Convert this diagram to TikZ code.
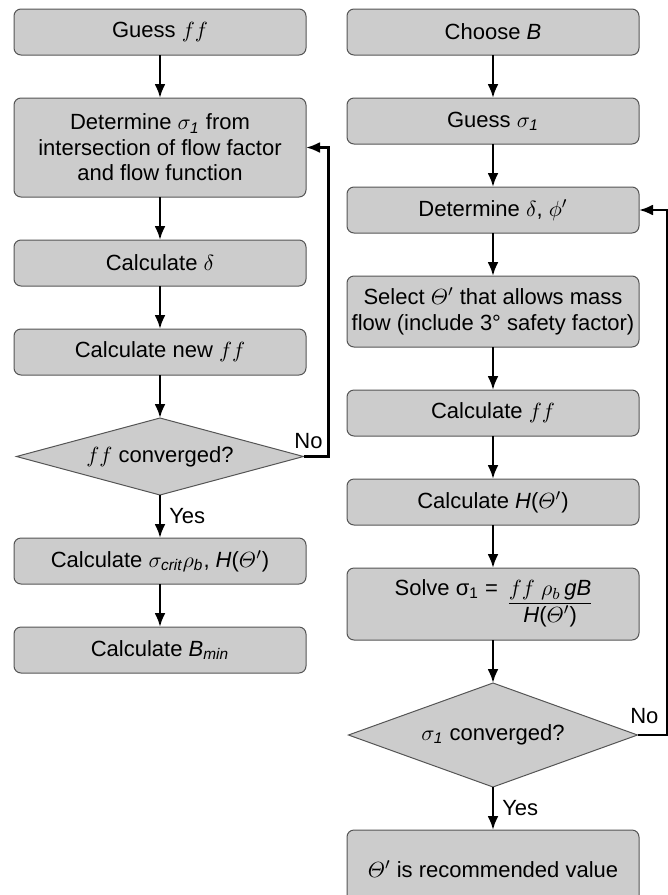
\documentclass[tikz,border=0pt]{standalone}
\usepackage{amsmath}
\usepackage{fontspec}
\setmainfont{Liberation Sans}
\usepackage{xcolor}
\usepackage{tikz}
\usetikzlibrary{arrows.meta, positioning, shapes.geometric}
\definecolor{boxgray}{RGB}{204,204,204}
\definecolor{edgegray}{RGB}{85,85,85}

\begin{document}
\begin{tikzpicture}[
      node distance=21.5pt and 20.5pt,
      box/.style={draw=edgegray, fill=boxgray, line width=0.5pt, rounded corners=3.5pt, minimum width=146pt, minimum height=23pt, inner sep=2pt, outer sep=0pt, font=\fontsize{11}{12.75}\selectfont, align=center},
      decision/.style={diamond, draw=edgegray, fill=boxgray, line width=0.5pt, minimum width=143.5pt, minimum height=38.5pt, aspect=3.7, inner sep=0pt, outer sep=0pt, font=\fontsize{11}{12.75}\selectfont},
      arrow/.style={-{Latex[length=7pt, width=5.5pt]}, line width=1.3pt},
      lbl/.style={font=\fontsize{11}{13}\selectfont, inner sep=2pt}
    ]
        \useasboundingbox (0,0) rectangle (334pt,-447.5pt);
        \clip (0,0) rectangle (334pt,-447.5pt);

        % left column
        \node (guessff) [box] at (80pt,-16pt) {Guess $ff$};
        \node (detsig) [box, below=of guessff, minimum height=49.5pt] {Determine $\sigma_{\textit{1}}$ from\\intersection of flow factor\\and flow function};
        \node (caldelta) [box, below=of detsig] {Calculate $\delta$};
        \node (newff) [box, below=of caldelta] {Calculate new $ff$};
        \node (convff) [decision, below=of newff] {$ff$ converged?};
        \node (calcrit) [box, below=of convff] {Calculate $\sigma_{\textit{crit}}\rho_{\textit{b}}$, \textit{H}($\varTheta'$)};
        \node (bmin) [box, below=of calcrit] {Calculate \textit{B}$_{\textit{min}}$};

        % right column
        \node (chooseb) [box, right=of guessff] {Choose \textit{B}};
        \node (guesssig) [box, below=of chooseb] {Guess $\sigma_{\textit{1}}$};
        \node (detphi) [box, below=of guesssig] {Determine $\delta$, $\phi'$};
        \node (select) [box, below=of detphi, minimum height=35.5pt] {Select $\varTheta'$ that allows mass\\flow (include 3° safety factor)};
        \node (calff) [box, below=of select] {Calculate $ff$};
        \node (calh) [box, below=of calff] {Calculate \textit{H}($\varTheta'$)};
        \node (solve) [box, below=of calh, minimum height=36pt] {\begin{tabular}{@{}r@{}c@{}}Solve σ\textsubscript{1} =\enspace & \underline{$ff$\ $\rho_b$\,\textit{gB}}\\ & \textit{H}($\varTheta'$)\end{tabular}};
        \node (convsig) [decision, below=of solve, minimum width=144.5pt, minimum height=52pt, aspect=2.8] {$\sigma_{\textit{1}}$ converged?};
        \node (result) [box, below=of convsig, minimum height=39pt] {$\varTheta'$ is recommended value};

        \draw[arrow] (guessff) -- (detsig);
        \draw[arrow] (detsig) -- (caldelta);
        \draw[arrow] (caldelta) -- (newff);
        \draw[arrow] (newff) -- (convff);
        \draw[arrow] (convff) -- node[lbl, right, xshift=2pt] {Yes} (calcrit);
        \draw[arrow] (calcrit) -- (bmin);
        \draw[arrow] (convff.east) -- node[lbl, above, pos=0.2, yshift=1pt] {No} ++(12.5pt,0) |- (detsig.east);

        \draw[arrow] (chooseb) -- (guesssig);
        \draw[arrow] (guesssig) -- (detphi);
        \draw[arrow] (detphi) -- (select);
        \draw[arrow] (select) -- (calff);
        \draw[arrow] (calff) -- (calh);
        \draw[arrow] (calh) -- (solve);
        \draw[arrow] (solve) -- (convsig);
        \draw[arrow] (convsig) -- node[lbl, right, xshift=2pt] {Yes} (result);
        \draw[arrow] (convsig.east) -- node[lbl, above, pos=0.23, yshift=3pt] {No} ++(15pt,0) |- (detphi.east);
    \end{tikzpicture}
\end{document}
